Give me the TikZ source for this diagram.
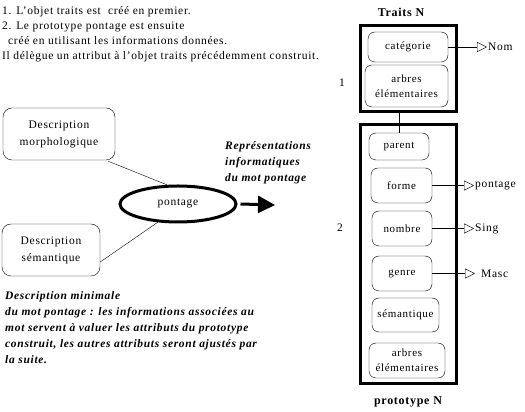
\documentclass[tikz,border=0pt]{standalone}
\usepackage{fontspec}
\setmainfont{Liberation Serif}[LetterSpace=6]
\usetikzlibrary{arrows.meta,shapes.geometric}

\begin{document}
\begin{tikzpicture}[x=1pt,y=1pt]
\tikzset{attr/.style={draw,thin,rounded corners=7pt,align=center,inner sep=1pt,font=\fontsize{11}{15}\selectfont},
  frame/.style={draw,line width=3pt,inner sep=0pt},
  desc/.style={draw,thin,rounded corners=9pt,align=center,inner sep=1pt,font=\fontsize{11.5}{17}\selectfont},
  val/.style={anchor=west,inner sep=1pt,font=\fontsize{11.5}{12}\selectfont},
  link/.style={thin,-{Triangle[open,length=10pt,width=10pt]}},
  note/.style={align=left,inner sep=0pt,font=\fontsize{11.5}{16}\selectfont\bfseries\itshape}}
\useasboundingbox (0,0) rectangle (525,412);
% top notes
\node[align=left,anchor=west,inner sep=0pt,font=\fontsize{11.5}{15}\selectfont] (intro) at (2,377.5)
  {1. L'objet traits est \ créé en premier.\\
   2. Le prototype pontage est ensuite\\
   \hspace*{6pt}créé en utilisant les informations données.\\
   Il délègue un attribut à l'objet traits précédemment construit.};
% objet traits
\node[frame,minimum width=96pt,minimum height=86pt] (traits) at (408.5,343.5) {};
\node[font=\fontsize{12}{12}\selectfont\bfseries] (traitsN) at (401,400) {Traits N};
\node[attr,minimum width=80pt,minimum height=30pt] (cat) at (408,365) {catégorie};
\node[attr,minimum width=83pt,minimum height=42pt] (arbA) at (406.5,326) {arbres\\élémentaires};
\node[font=\fontsize{11.5}{12}\selectfont] (one) at (342,329) {1};
% prototype
\node[frame,minimum width=96pt,minimum height=259pt] (proto) at (408.5,158) {};
\node[font=\fontsize{12}{12}\selectfont\bfseries] (protoN) at (408,10) {prototype N};
\node[attr,minimum width=60pt,minimum height=27pt] (parent) at (399,265.5) {parent};
\node[attr,minimum width=61pt,minimum height=35pt] (forme) at (401.5,226.5) {forme};
\node[attr,minimum width=60pt,minimum height=35pt] (nombre) at (402,183.5) {nombre};
\node[attr,minimum width=60pt,minimum height=35pt] (genre) at (402,138.5) {genre};
\node[attr,minimum width=67pt,minimum height=34pt] (sem) at (405.5,97) {sémantique};
\node[attr,minimum width=76pt,minimum height=35pt] (arbB) at (407,51.5) {arbres\\élémentaires};
\node[font=\fontsize{11.5}{12}\selectfont] (two) at (340,184) {2};
\draw[thin] (parent.north) -- (parent.north |- traits.south);
% valeurs
\node[val] (nom) at (487,365) {Nom};
\node[val] (vpont) at (474,226.5) {pontage};
\node[val] (sing) at (474,183.5) {Sing};
\node[val] (masc) at (480,138.5) {Masc};
\draw[link] (cat.east) -- (nom.west);
\draw[link] (forme.east) -- (vpont.west);
\draw[link] (nombre.east) -- (sing.west);
\draw[link] (genre.east) -- ([xshift=-5pt]masc.west);
% partie gauche
\node[desc,minimum width=112pt,minimum height=52pt] (morph) at (59,278) {Description\\morphologique};
\node[desc,minimum width=98pt,minimum height=52pt] (semd) at (51,162) {Description\\sémantique};
\node[draw,ellipse,line width=3pt,minimum width=116pt,minimum height=36pt,font=\fontsize{11.5}{12}\selectfont] (pont) at (178,208) {pontage};
\draw[thin] ([shift={(-7pt,-1pt)}]morph.south east) -- (pont.120);
\draw[thin] ([yshift=-12pt]semd.east) -- (pont.222);
\coordinate (fin) at (275,207);
\draw[line width=3pt,-{Triangle[length=17pt,width=17pt]}] ([xshift=3pt]pont.east) -- (fin);
\node[note,anchor=west] (repr) at (225,249) {Représentations\\informatiques\\du mot pontage};
\node[note,anchor=west] (mini) at (5,84.5) {Description minimale\\
  du mot pontage : les informations associées au\\
  mot servent à valuer les attributs du prototype\\
  construit, les autres attributs seront ajustés par\\
  la suite.};
\end{tikzpicture}
\end{document}
